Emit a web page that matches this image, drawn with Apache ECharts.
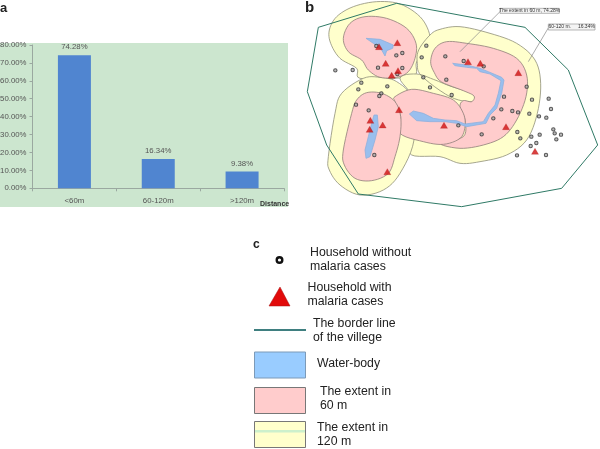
<!DOCTYPE html>
<html>
<head>
<meta charset="utf-8">
<title>Malaria households by distance to water</title>
<style>
  html, body { margin: 0; padding: 0; background: #fff; }
  #main { width: 600px; height: 449px; filter: blur(0.4px); }
</style>
</head>
<body>
<div id="main"></div>
<script src="https://cdn.jsdelivr.net/npm/echarts@6/dist/echarts.min.js"></script>
<script>
// panel a
var distanceLabels = ['<60m', '60-120m', '>120m'];
var casePercent = [74.28, 16.34, 9.38];

// panel b, map coordinates
var villageBorder = [[55,82],[290,10],[675,82],[805,210],[893,435],[785,565],[485,620],[175,582],[80,435],[22,275]];
var extent120 = [
  [[230,5],[300,12],[360,50],[388,100],[385,140],[350,185],[345,225],[280,235],[180,235],[170,205],[120,175],[92,130],[88,90],[110,50],[160,20]],
  [[352,190],[356,150],[390,105],[420,88],[480,80],[570,100],[650,130],[705,180],[722,250],[712,340],[680,420],[620,465],[540,485],[480,490],[420,470],[335,465],[335,420],[340,300],[300,235],[350,222],[400,238],[450,258],[528,285],[515,305],[450,290],[365,228]],
  [[190,235],[240,232],[290,245],[335,295],[342,420],[300,520],[250,570],[180,585],[120,555],[88,510],[85,470],[105,340],[125,280]]
];
var extent60 = [
  [[130,115],[150,70],[195,50],[260,55],[320,85],[348,130],[345,175],[325,215],[290,232],[240,232],[205,210],[185,180],[145,155]],
  [[392,185],[405,145],[440,125],[500,130],[580,145],[650,175],[680,225],[678,290],[650,360],[610,410],[550,435],[480,445],[420,430],[490,410],[495,360],[480,320],[490,302],[515,305],[522,288],[490,272],[425,246],[403,218]],
  [[285,290],[335,268],[400,280],[460,300],[490,340],[495,380],[480,415],[430,433],[370,425],[300,400],[302,350],[285,305]],
  [[200,278],[245,280],[285,305],[302,350],[300,410],[285,470],[265,520],[215,542],[165,535],[133,495],[130,450],[155,340],[170,300]]
];
var waterBodies = [
  [[198,115],[240,118],[280,135],[278,145],[260,152],[255,168],[245,150],[220,130]],
  [[458,190],[500,195],[540,205],[565,215],[605,232],[612,240],[605,280],[590,325],[570,345],[558,370],[500,380],[470,370],[435,365],[390,365],[350,362],[328,342],[340,333],[370,340],[400,355],[435,360],[470,362],[495,372],[550,365],[565,340],[585,315],[595,280],[603,242],[570,222],[540,215],[530,205],[500,202],[465,197]],
  [[222,345],[232,345],[235,380],[225,420],[210,470],[198,475],[195,450],[205,410],[215,370]]
];
var householdsNoCases = [[106,211],[158,210],[229,138],[289,166],[307,159],[234,203],[307,204],[292,222],[184,248],[175,268],[262,259],[244,280],[238,288],[168,314],[206,331],[223,465],[379,137],[365,172],[436,169],[491,183],[551,199],[370,232],[439,239],[390,262],[455,285],[680,260],[696,299],[612,290],[604,328],[637,333],[654,337],[688,341],[580,355],[475,376],[545,403],[652,396],[661,415],[746,296],[753,327],[717,349],[739,353],[760,388],[764,400],[783,404],[769,418],[694,410],[719,404],[709,429],[692,438],[651,466],[738,465]];
var householdsCases = [[237,140],[292,128],[257,190],[294,212],[275,226],[297,329],[211,361],[248,375],[209,388],[262,515],[432,376],[504,185],[541,190],[655,218],[618,380],[705,454]];
var calloutLines = [[[602,33],[480,155]], [[746,82],[685,185]]];
var calloutBoxes = [[600,25,778,40,'The extent in 60 m, 74.28%'], [745,72,885,90,'60-120 m.     16.34%']];

var font = '"Liberation Sans", Arial, sans-serif';

// closed catmull-rom through the outline points, gives the rounded buffer shapes
function spline(pts) {
  var out = [], n = pts.length;
  for (var i = 0; i < n; i++) {
    var p0 = pts[(i - 1 + n) % n], p1 = pts[i], p2 = pts[(i + 1) % n], p3 = pts[(i + 2) % n];
    for (var s = 0; s < 6; s++) {
      var t = s / 6, t2 = t * t, t3 = t2 * t;
      out.push([
        0.5 * (2 * p1[0] + (p2[0] - p0[0]) * t + (2 * p0[0] - 5 * p1[0] + 4 * p2[0] - p3[0]) * t2 + (3 * p1[0] - p0[0] - 3 * p2[0] + p3[0]) * t3),
        0.5 * (2 * p1[1] + (p2[1] - p0[1]) * t + (2 * p0[1] - 5 * p1[1] + 4 * p2[1] - p3[1]) * t2 + (3 * p1[1] - p0[1] - 3 * p2[1] + p3[1]) * t3)
      ]);
    }
  }
  return out;
}

function polygonLayer(polys, fill, stroke, z, smooth) {
  return {
    type: 'custom', xAxisIndex: 1, yAxisIndex: 1, z: z, clip: false, silent: true,
    data: polys.map(function(p, i) { return [i]; }),
    renderItem: function(params, api) {
      var pts = polys[params.dataIndex].map(function(p) { return api.coord(p); });
      return { type: 'polygon', shape: { points: smooth ? spline(pts) : pts }, style: { fill: fill, stroke: stroke, lineWidth: 0.8 } };
    }
  };
}

function label(text, x, y, size, weight) {
  return { type: 'text', left: x, top: y, z: 10, style: { text: text, fill: '#222', font: (weight || 'normal') + ' ' + size + 'px ' + font, lineHeight: 14 } };
}
function swatch(y, fill, stroke) {
  return { type: 'rect', shape: { x: 254.5, y: y, width: 51, height: 26 }, z: 9, style: { fill: fill, stroke: stroke, lineWidth: 1 } };
}

var option = {
  animation: false,
  backgroundColor: '#fff',
  textStyle: { fontFamily: font },
  grid: [
    { left: 32.5, top: 45, width: 251.5, height: 143.3, outerBoundsMode: 'none' },
    { left: 300, top: 0, width: 300, height: 215, outerBoundsMode: 'none' }
  ],
  xAxis: [
    {
      type: 'category', gridIndex: 0, data: distanceLabels,
      name: 'Distance', nameLocation: 'end', nameGap: -24,
      nameTextStyle: { fontSize: 7, fontWeight: 'bold', color: '#333', verticalAlign: 'top', padding: [12, 0, 0, 0] },
      axisLine: { lineStyle: { color: '#9aa8a0' } },
      axisTick: { show: true, alignWithLabel: false, length: 3, lineStyle: { color: '#9aa8a0' } },
      axisLabel: { fontSize: 7.8, color: '#555', margin: 9 }
    },
    { type: 'value', gridIndex: 1, min: 0, max: 900, show: false }
  ],
  yAxis: [
    {
      type: 'value', gridIndex: 0, min: 0, max: 80, interval: 10,
      axisLine: { show: true, lineStyle: { color: '#9aa8a0' } },
      axisTick: { show: true, length: 3, lineStyle: { color: '#9aa8a0' } },
      splitLine: { show: false },
      axisLabel: { fontSize: 7.8, color: '#555', margin: 6, formatter: function(v) { return v.toFixed(2) + '%'; } }
    },
    { type: 'value', gridIndex: 1, min: 0, max: 645, inverse: true, show: false }
  ],
  series: [
    {
      type: 'bar', xAxisIndex: 0, yAxisIndex: 0, data: casePercent, barWidth: 33, z: 3,
      itemStyle: { color: '#5085d0' },
      label: { show: true, position: 'top', distance: 4, fontSize: 7.8, color: '#555', formatter: function(p) { return p.value.toFixed(2) + '%'; } }
    },
    polygonLayer(extent120, '#ffffcc', '#8f8f78', 2, true),
    polygonLayer(extent60.slice(0, 2), '#ffcccc', '#8f7f78', 3, true),
    polygonLayer(extent60.slice(2), '#ffcccc', '#8f7f78', 4, true),
    polygonLayer(waterBodies, '#99bfee', '#8fb0dd', 5, false),
    {
      type: 'custom', xAxisIndex: 1, yAxisIndex: 1, z: 5, clip: false, silent: true,
      data: [0],
      renderItem: function(params, api) {
        var pts = villageBorder.map(function(p) { return api.coord(p); });
        return { type: 'polygon', shape: { points: pts }, style: { fill: 'none', stroke: '#2f7a66', lineWidth: 1 } };
      }
    },
    {
      type: 'custom', xAxisIndex: 1, yAxisIndex: 1, z: 6, clip: false, silent: true,
      data: calloutLines.map(function(l, i) { return [i]; }),
      renderItem: function(params, api) {
        var l = calloutLines[params.dataIndex];
        var a = api.coord(l[0]), b = api.coord(l[1]);
        return { type: 'line', shape: { x1: a[0], y1: a[1], x2: b[0], y2: b[1] }, style: { stroke: '#888', lineWidth: 0.7 } };
      }
    },
    {
      type: 'custom', xAxisIndex: 1, yAxisIndex: 1, z: 6, clip: false, silent: true,
      data: calloutBoxes.map(function(b, i) { return [i]; }),
      renderItem: function(params, api) {
        var b = calloutBoxes[params.dataIndex];
        var a = api.coord([b[0], b[1]]), c = api.coord([b[2], b[3]]);
        return {
          type: 'rect',
          shape: { x: a[0], y: a[1], width: c[0] - a[0], height: c[1] - a[1] },
          style: { fill: '#f4f4f4', stroke: '#999', lineWidth: 0.7 },
          textContent: { style: { text: b[4], fill: '#333', font: '5px ' + font } },
          textConfig: { position: 'inside' }
        };
      }
    },
    {
      type: 'scatter', xAxisIndex: 1, yAxisIndex: 1, z: 7, data: householdsNoCases, symbol: 'circle', symbolSize: 3.4,
      itemStyle: { color: '#aaa', borderColor: '#333', borderWidth: 1 }
    },
    {
      type: 'scatter', xAxisIndex: 1, yAxisIndex: 1, z: 8, data: householdsCases, symbol: 'triangle', symbolSize: [7, 6],
      itemStyle: { color: '#d01010', borderColor: '#a01010', borderWidth: 0.3 }
    }
  ],
  graphic: [
    { type: 'rect', shape: { x: 0, y: 43, width: 288, height: 164 }, z: -10, style: { fill: '#cce6cf' } },
    label('a', 0, 1, 13, 'bold'),
    label('b', 305, 0, 15, 'bold'),
    label('c', 253, 238, 12, 'bold'),
    { type: 'circle', shape: { cx: 279.5, cy: 260, r: 2.8 }, z: 9, style: { fill: '#fff', stroke: '#111', lineWidth: 2.4 } },
    { type: 'polygon', shape: { points: [[280, 287], [290, 306], [269, 306]] }, z: 9, style: { fill: '#e20a0a', stroke: '#a51515', lineWidth: 0.5 } },
    { type: 'line', shape: { x1: 254, y1: 330, x2: 306, y2: 330 }, z: 9, style: { stroke: '#3f7f80', lineWidth: 2 } },
    swatch(352, '#99ccff', '#7c9ab8'),
    swatch(387.5, '#ffcccc', '#777'),
    swatch(421.5, '#ffffcc', '#777'),
    { type: 'rect', shape: { x: 255, y: 430, width: 50, height: 2.5 }, z: 10, style: { fill: '#ccf0cc' } },
    label('Household without\nmalaria cases', 310, 246, 12.3),
    label('Household with\nmalaria cases', 307.5, 281, 12.3),
    label('The border line\nof the villege', 313, 317, 12.3),
    label('Water-body', 317, 357, 12.3),
    label('The extent in\n60 m', 320, 385, 12.3),
    label('The extent in\n120 m', 317, 421, 12.3)
  ]
};

var chart = echarts.init(document.getElementById('main'));
chart.setOption(option);
</script>
</body>
</html>
